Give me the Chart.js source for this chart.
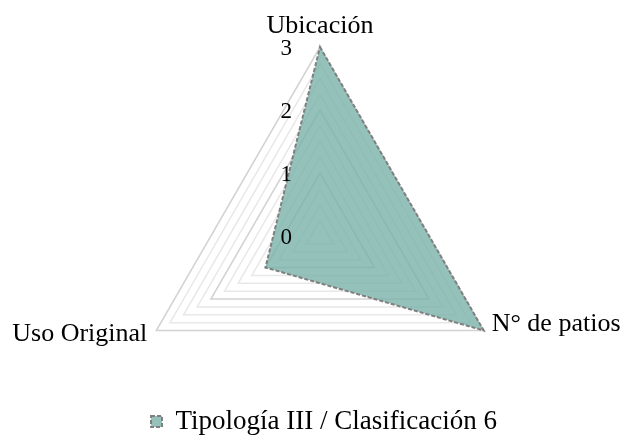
<!DOCTYPE html>
<html>
<head>
<meta charset="utf-8">
<script src="https://cdn.jsdelivr.net/npm/chart.js@4/dist/chart.umd.min.js"></script>
<style>
  html, body { margin: 0; padding: 0; background: #fff; }
  #wrap { width: 624px; height: 437px; }
</style>
</head>
<body>
<div id="wrap"><canvas id="radarChart"></canvas></div>
<script>
const categories = ["Ubicación", "N° de patios", "Uso Original"];
const seriesName = "Tipología III / Clasificación 6";
const seriesValues = [3, 3, 1];
const tickLabels = [0, 1, 2, 3];

const FONT = "'Liberation Serif', 'Times New Roman', serif";

// label offsets from each vertex: [dx, dy, align, baseline]
const labelPlacement = [
  [0, -14, "center", "alphabetic"],
  [8, -6, "left", "middle"],
  [-9, 4, "right", "middle"],
];

const radarLabels = {
  id: "radarLabels",
  afterDatasetsDraw(chart) {
    const scale = chart.scales.r;
    const ctx = chart.ctx;
    ctx.save();
    ctx.fillStyle = "#000";
    // tick labels, left of the vertical axis
    ctx.font = "23px " + FONT;
    ctx.textAlign = "right";
    ctx.textBaseline = "middle";
    tickLabels.forEach((v) => {
      const d = scale.getDistanceFromCenterForValue(v);
      ctx.fillText(String(v), scale.xCenter - 28, scale.yCenter - d + 2);
    });
    // category labels
    ctx.font = "26px " + FONT;
    categories.forEach((name, i) => {
      const p = scale.getPointPosition(i, scale.drawingArea);
      const [dx, dy, align, base] = labelPlacement[i];
      ctx.textAlign = align;
      ctx.textBaseline = base;
      ctx.fillText(name, p.x + dx, p.y + dy);
    });
    ctx.restore();
  },
};

new Chart(document.getElementById("radarChart"), {
  type: "radar",
  data: {
    labels: categories,
    datasets: [
      {
        label: seriesName,
        data: seriesValues,
        backgroundColor: "rgba(122, 178, 170, 0.8)",
        borderColor: "#7f7f7f",
        borderWidth: 2,
        borderDash: [4, 2],
        pointRadius: 0,
        pointHoverRadius: 0,
        fill: true,
        clip: false,
      },
    ],
  },
  options: {
    responsive: true,
    maintainAspectRatio: false,
    animation: false,
    layout: { padding: { left: 24, bottom: -8 } },
    plugins: {
      tooltip: { enabled: false },
      legend: {
        position: "bottom",
        labels: {
          color: "#000",
          font: { family: FONT, size: 27 },
          boxWidth: 11,
          boxHeight: 11,
          padding: 0,
        },
      },
    },
    scales: {
      r: {
        min: 0,
        max: 3,
        startAngle: 0,
        ticks: {
          stepSize: 0.25,
          display: false,
          callback: (v) => (Number.isInteger(v) ? String(v) : ""),
        },
        grid: {
          color: (c) => (Number.isInteger(c.tick.value) ? "#d2d2d2" : "#e8e8e8"),
          lineWidth: 1.5,
        },
        angleLines: { display: false },
        pointLabels: { display: false },
        afterFit: (scale) => {
          scale.xCenter = 320;
          scale.yCenter = 236;
          scale.drawingArea = 189;
        },
      },
    },
  },
  plugins: [radarLabels],
});
</script>
</body>
</html>
